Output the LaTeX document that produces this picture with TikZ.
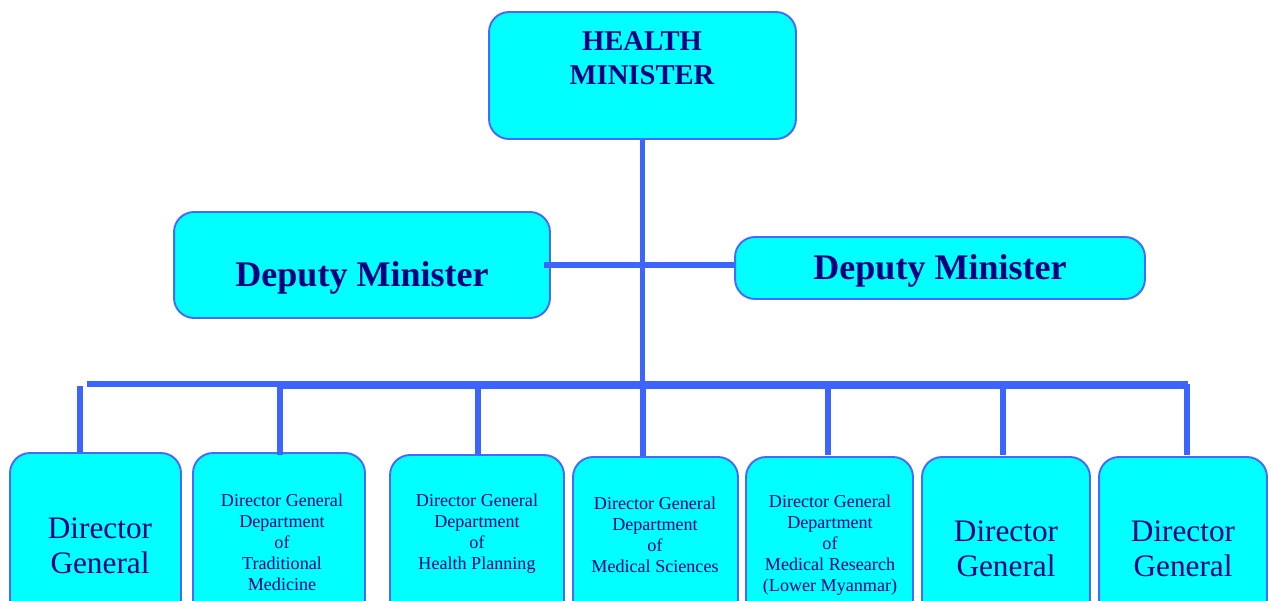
\documentclass[tikz,border=0pt]{standalone}
\usepackage{fontspec}
\setmainfont{Liberation Serif}
\usetikzlibrary{positioning}

\definecolor{boxfill}{RGB}{0,255,255}
\definecolor{boxline}{RGB}{70,105,255}
\definecolor{wire}{RGB}{60,100,255}
\definecolor{ink}{RGB}{0,0,128}

\tikzset{
  box/.style={draw=boxline,fill=boxfill,line width=1.1pt,rounded corners=0.4cm,inner sep=0pt},
  link/.style={draw=wire,line width=2.9pt},
  bigtext/.style={text=ink,align=center,font=\fontsize{17.8}{20}\selectfont},
  smalltext/.style={text=ink,align=center,font=\fontsize{10.3}{12}\selectfont}
}

\begin{document}
\begin{tikzpicture}[x=0.02cm,y=-0.02cm]
        \useasboundingbox (0,0) rectangle (1270,601);
        \clip (0,0) rectangle (1270,601);

        % boxes
        \node[box,minimum width=6.14cm,minimum height=2.54cm] (hm) at (642.5,75.5) {};
        \node[box,minimum width=7.52cm,minimum height=2.12cm] (dl) at (362,265) {};
        \node[box,minimum width=8.2cm,minimum height=1.24cm] (dr) at (940,268) {};

        \begin{scope}[every node/.style={box,minimum height=4cm}]
          \node[minimum width=3.42cm] (dg1) at (95.5,553) {};
          \node[minimum width=3.44cm] (dg2) at (279,553) {};
          \node[minimum width=3.48cm] (dg3) at (477,555) {};
          \node[minimum width=3.3cm]  (dg4) at (655.5,557) {};
          \node[minimum width=3.34cm] (dg5) at (829.5,557) {};
          \node[minimum width=3.36cm] (dg6) at (1006,557) {};
          \node[minimum width=3.36cm] (dg7) at (1183,557) {};
        \end{scope}

        % texts
        \node[text=ink,align=center,font=\fontsize{16.3}{19}\selectfont\bfseries] (hmt) at (642,58) {HEALTH\\MINISTER};
        \node[text=ink,font=\fontsize{20.5}{24}\selectfont\bfseries] (dlt) at (362,278) {Deputy Minister};
        \node[text=ink,font=\fontsize{20.5}{24}\selectfont\bfseries] (drt) at (940,271) {Deputy Minister};

        \node[bigtext] (dg1t) at (100,546) {Director\\General};
        \node[smalltext] (dg2t) at (282,542) {Director General\\Department\\of\\Traditional\\Medicine};
        \node[smalltext] (dg3t) at (477,534) {Director General\\Department\\of\\Health Planning};
        \node[smalltext] (dg4t) at (655,535) {Director General\\Department\\of\\Medical Sciences};
        \node[smalltext] (dg5t) at (830,545) {Director General\\Department\\of\\Medical Research\\(Lower Myanmar)};
        \node[bigtext] (dg6t) at (1006,549) {Director\\General};
        \node[bigtext] (dg7t) at (1183,549) {Director\\General};

        % lines
        \coordinate (busl) at (87,384);
        \coordinate (busr) at (1188,384);
        \path[link] (hm.south) -- (hm.south |- busl);
        \path[link] ([xshift=-0.14cm]dl.east) -- (dl.east -| dr.west);
        \path[link] (busl) -- (busr);
        \path[link] (280,386) -- (1188,386);
        \path[link] (80,386) -- (dg1.north -| 80,0);
        \foreach \n/\x in {2/280,3/478,5/828,6/1003,7/1187}
          \path[link] (\x,384) -- (\x,455);
        \path[link] (643,384) -- (dg4.north -| 643,0);

\end{tikzpicture}
\end{document}
